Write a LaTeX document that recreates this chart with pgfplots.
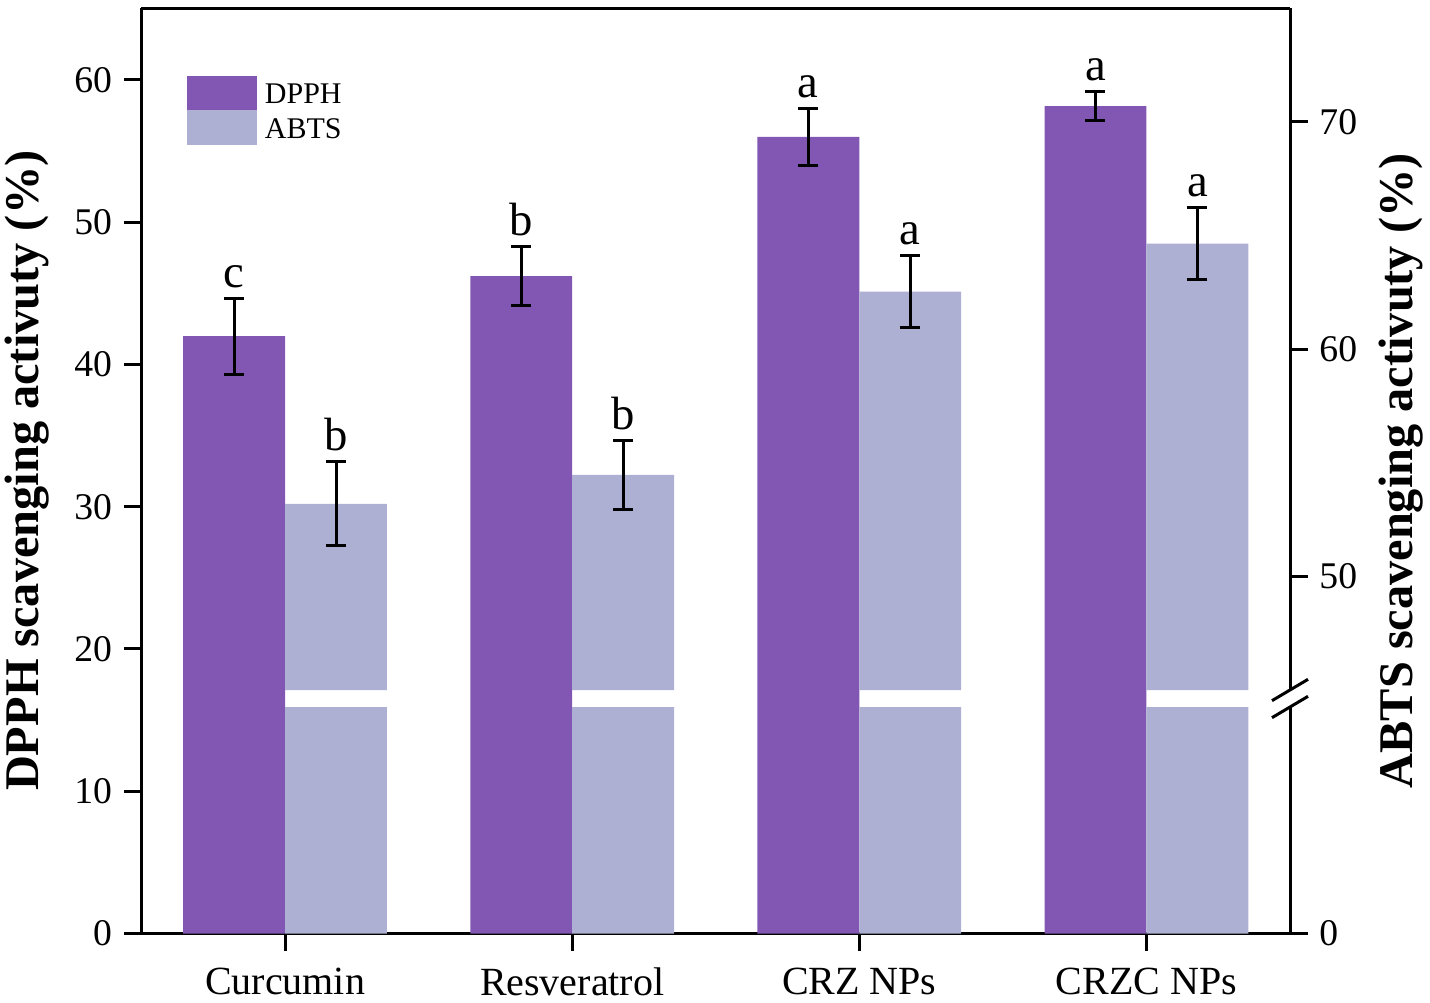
\documentclass[border=0pt]{standalone}
\usepackage{pgfplots}
\pgfplotsset{compat=1.18}
\usepackage{pgfplotstable}
\usepackage{fontspec}
\setmainfont{Liberation Serif}

\definecolor{dpph}{RGB}{129,87,179}
\definecolor{abts}{RGB}{173,176,210}

% x = group index, DPPH (left axis) and ABTS (right axis) with SD
\pgfplotstableread{
x dpph dpphe abts abtse
0 42.00 2.67 53.19 1.84
1 46.22 2.07 54.46 1.51
2 56.00 2.03 62.52 1.58
3 58.17 1.03 64.63 1.59
}\scav

\pgfplotsset{
  common/.style={
    scale only axis, width=344.55pt,
    xmin=-0.5, xmax=3.5,
    clip mode=individual,
    axis line style={line width=0.9pt},
    every tick/.style={black, line width=0.9pt},
    tick align=outside, major tick length=5.3pt,
    /pgf/number format/assume math mode=true,
    yticklabel style={font=\fontsize{11.3}{13}\selectfont},
  },
  errs/.style={
    error bars/.cd, y dir=both, y explicit,
    error bar style={line width=0.9pt, black},
    error mark options={rotate=90, line width=0.9pt, mark size=3pt, black},
  },
}

\begin{document}
\begin{tikzpicture}
\useasboundingbox (-42.45pt,-20.55pt) rectangle (386.55pt,280.05pt);

% DPPH, left axis, full height
\begin{axis}[common,
  at={(0,0)}, anchor=south west, height=277.65pt,
  ymin=0, ymax=65.06,
  axis y line*=left,
  xtick={0,1,2,3}, xticklabels={Curcumin,Resveratrol,CRZ NPs,CRZC NPs},
  xtick pos=bottom, ytick pos=left,
  ytick={0,10,...,60},
  xticklabel style={font=\fontsize{12}{14}\selectfont, yshift=-1.5pt},
  ylabel={DPPH scavenging activuty (\%)},
  ylabel style={at={(axis description cs:-0.0993,0.5)}, anchor=center,
    font=\bfseries\fontsize{14.5}{16}\selectfont},
  legend style={at={(axis description cs:0.0387,0.9276)}, anchor=north west,
    draw=none, fill=none, inner sep=0pt, row sep=-0.3pt, column sep=2.4pt,
    nodes={inner sep=0pt}, font=\fontsize{9}{10}\selectfont},
  legend cell align=left,
]
\addlegendimage{legend image code/.code={\fill[dpph] (0pt,-4.2pt) rectangle (20.7pt,6.0pt);}}
\addlegendentry{DPPH}
\addlegendimage{legend image code/.code={\fill[abts] (0pt,-4.2pt) rectangle (20.7pt,6.0pt);}}
\addlegendentry{ABTS}

\addplot[forget plot, ybar, bar width=0.355, bar shift=0pt, fill=dpph, draw=none, errs]
  table[x expr=\thisrow{x}-0.1775, y=dpph, y error=dpphe] {\scav};

\begin{scope}[every node/.style={anchor=base, yshift=3.3pt, font=\fontsize{14}{16}\selectfont}]
\node at (axis cs:-0.1775,44.67) {c};
\node at (axis cs:0.8225,48.29) {b};
\node at (axis cs:1.8225,58.03) {a};
\node at (axis cs:2.8225,59.20) {a};
\end{scope}

\node[rotate=90, anchor=center, font=\bfseries\fontsize{14.5}{16}\selectfont]
  at (axis description cs:1.0967,0.5) {ABTS scavenging activuty (\%)};
\end{axis}

% ABTS, upper segment of the broken right axis (45 to 75)
\begin{axis}[common,
  at={(0,73.05pt)}, anchor=south west, height=204.6pt,
  ymin=45, ymax=75,
  axis x line=none, axis y line*=right,
  ytick={50,60,70}, ytick pos=right,
]
\addplot[ybar, bar width=0.355, bar shift=0pt, fill=abts, draw=none, errs]
  table[x expr=\thisrow{x}+0.1775, y=abts, y error=abtse] {\scav};

\begin{scope}[every node/.style={anchor=base, yshift=3.3pt, font=\fontsize{14}{16}\selectfont}]
\node at (axis cs:0.1775,55.03) {b};
\node at (axis cs:1.1775,55.97) {b};
\node at (axis cs:2.1775,64.10) {a};
\node at (axis cs:3.1775,66.22) {a};
\end{scope}
\end{axis}

% ABTS, lower segment of the broken right axis
\begin{axis}[common,
  at={(0,0)}, anchor=south west, height=67.95pt,
  ymin=0, ymax=10,
  axis x line=none, axis y line*=right,
  ytick={0}, ytick pos=right,
]
\addplot[ybar, bar width=0.355, bar shift=0pt, fill=abts, draw=none]
  table[x expr=\thisrow{x}+0.1775, y=abts] {\scav};
\end{axis}

% break marks on the right axis
\draw[line width=0.9pt] (339.15pt,69.85pt) -- (349.95pt,76.25pt);
\draw[line width=0.9pt] (339.15pt,64.75pt) -- (349.95pt,71.15pt);
\end{tikzpicture}
\end{document}
